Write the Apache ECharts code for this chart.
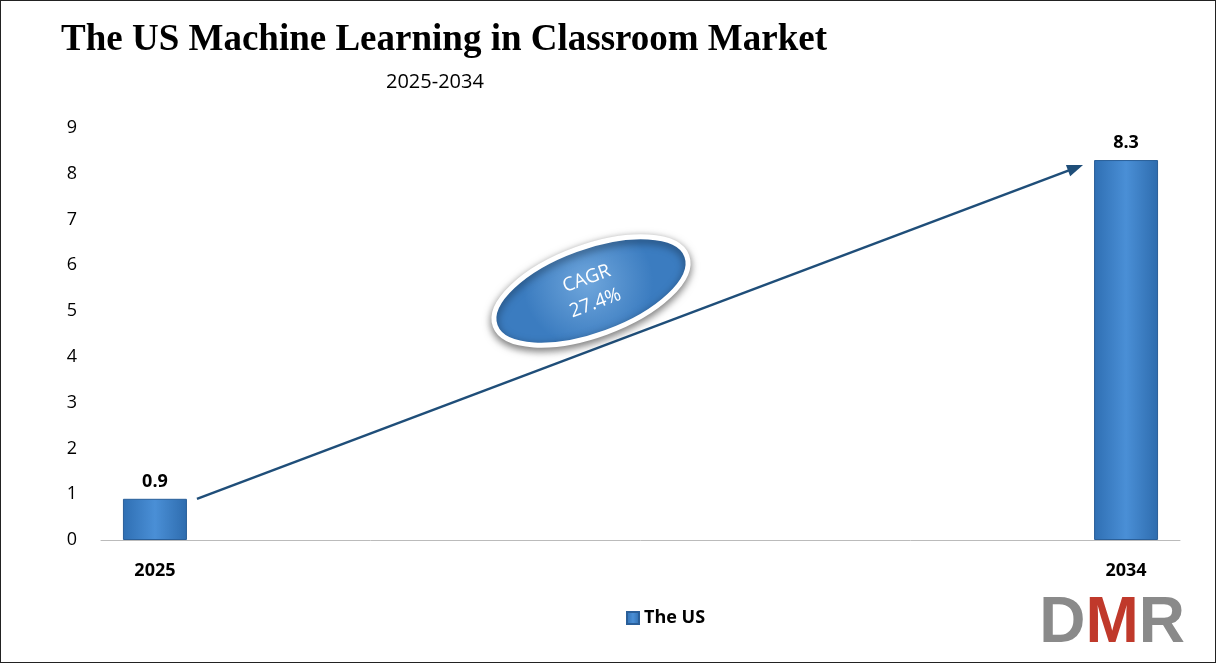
<!DOCTYPE html>
<html><head><meta charset="utf-8">
<script src="https://cdn.jsdelivr.net/npm/echarts@6/dist/echarts.min.js"></script>
<style>html,body{margin:0;padding:0;background:#fff}#c{width:1216px;height:663px;box-sizing:border-box;border:1.5px solid #222}</style>
</head><body><div id="c"></div>
<script>
const categories = ['2025','2026','2027','2028','2029','2030','2031','2032','2033','2034'];
const values = [0.9,null,null,null,null,null,null,null,null,8.3];
const shownLabels = ['2025','2034'];
const yTicks = [0,1,2,3,4,5,6,7,8,9];
const seriesName = 'The US';
const cagrText = 'CAGR\n27.4%';

const chart = echarts.init(document.getElementById('c'));
const barColor = new echarts.graphic.LinearGradient(0,0,1,0,[
  {offset:0,color:'#2f6fb3'},{offset:0.5,color:'#4a8fd6'},{offset:1,color:'#2e6cae'}]);
chart.setOption({
  animation:false,
  title:[{text:'The US Machine Learning in Classroom Market',left:55,top:16,
    textStyle:{fontFamily:'Liberation Serif',fontWeight:'bold',fontSize:37,color:'#000'}},
    {text:'2025-2034',left:380,top:66,textStyle:{fontFamily:'Open Sans',fontWeight:'normal',fontSize:20,color:'#000'}}],
  grid:{left:100,right:35,top:127,bottom:122,containLabel:false},
  legend:{top:603,left:620,itemWidth:12,itemHeight:12,icon:'rect',
    textStyle:{fontFamily:'Open Sans',fontWeight:'bold',fontSize:18,color:'#000'}},
  xAxis:{type:'category',data:categories,
    axisLine:{lineStyle:{color:'#bbb'}},axisTick:{show:false},
    axisLabel:{interval:0,margin:22,fontFamily:'Open Sans',fontWeight:'bold',fontSize:18,color:'#000',
      formatter:v=>shownLabels.includes(v)?v:''}},
  yAxis:{type:'value',min:yTicks[0],max:yTicks[yTicks.length-1],interval:1,
    axisLine:{show:false},axisTick:{show:false},splitLine:{show:false},
    axisLabel:{margin:24,fontFamily:'Open Sans',fontSize:18,color:'#000'}},
  series:[{name:seriesName,type:'bar',data:values,barWidth:64,
    itemStyle:{color:barColor,borderColor:'#2a5f99',borderWidth:1},
    label:{show:true,position:'top',distance:8,fontFamily:'Open Sans',fontWeight:'bold',fontSize:18,color:'#000'}}]
});
const p0 = chart.convertToPixel({seriesIndex:0},[0,values[0]]);
const p1 = chart.convertToPixel({seriesIndex:0},[9,values[9]]);
const sx=p0[0]+42, sy=p0[1]+0, ex=p1[0]-43, ey=p1[1]+5;
const ang=Math.atan2(ey-sy,ex-sx);
const mx=590,my=290;
chart.setOption({graphic:[
  {type:'line',shape:{x1:sx,y1:sy,x2:ex-8*Math.cos(ang),y2:ey-8*Math.sin(ang)},style:{stroke:'#1f4e79',lineWidth:2.5}},
  {type:'polygon',shape:{points:[[ex,ey],
     [ex-16*Math.cos(ang)+6*Math.sin(ang),ey-16*Math.sin(ang)-6*Math.cos(ang)],
     [ex-16*Math.cos(ang)-6*Math.sin(ang),ey-16*Math.sin(ang)+6*Math.cos(ang)]]},style:{fill:'#1f4e79'}},
  {type:'group',x:mx,y:my,rotation:0.35,children:[
    {type:'ellipse',shape:{cx:0,cy:0,rx:102,ry:44},
     style:{fill:new echarts.graphic.RadialGradient(0.5,0.4,0.7,[{offset:0,color:'#6fa6dc'},{offset:1,color:'#3b7cc0'}]),
       stroke:'#fff',lineWidth:5,shadowBlur:8,shadowColor:'rgba(0,0,0,0.5)',shadowOffsetY:3}},
    {type:'text',style:{text:cagrText,x:0,y:0,align:'center',verticalAlign:'middle',fill:'#fff',
       font:'19px "Open Sans"',lineHeight:26}}]},
  {type:'text',right:30,bottom:6,style:{text:'{g|D}{r|M}{g|R}',
     rich:{g:{fontFamily:'Liberation Sans',fontWeight:'bold',fontSize:64,fill:'#8a8a8a',color:'#8a8a8a'},
           r:{fontFamily:'Liberation Sans',fontWeight:'bold',fontSize:64,fill:'#c0392b',color:'#c0392b'}}}}
]});
</script></body></html>
